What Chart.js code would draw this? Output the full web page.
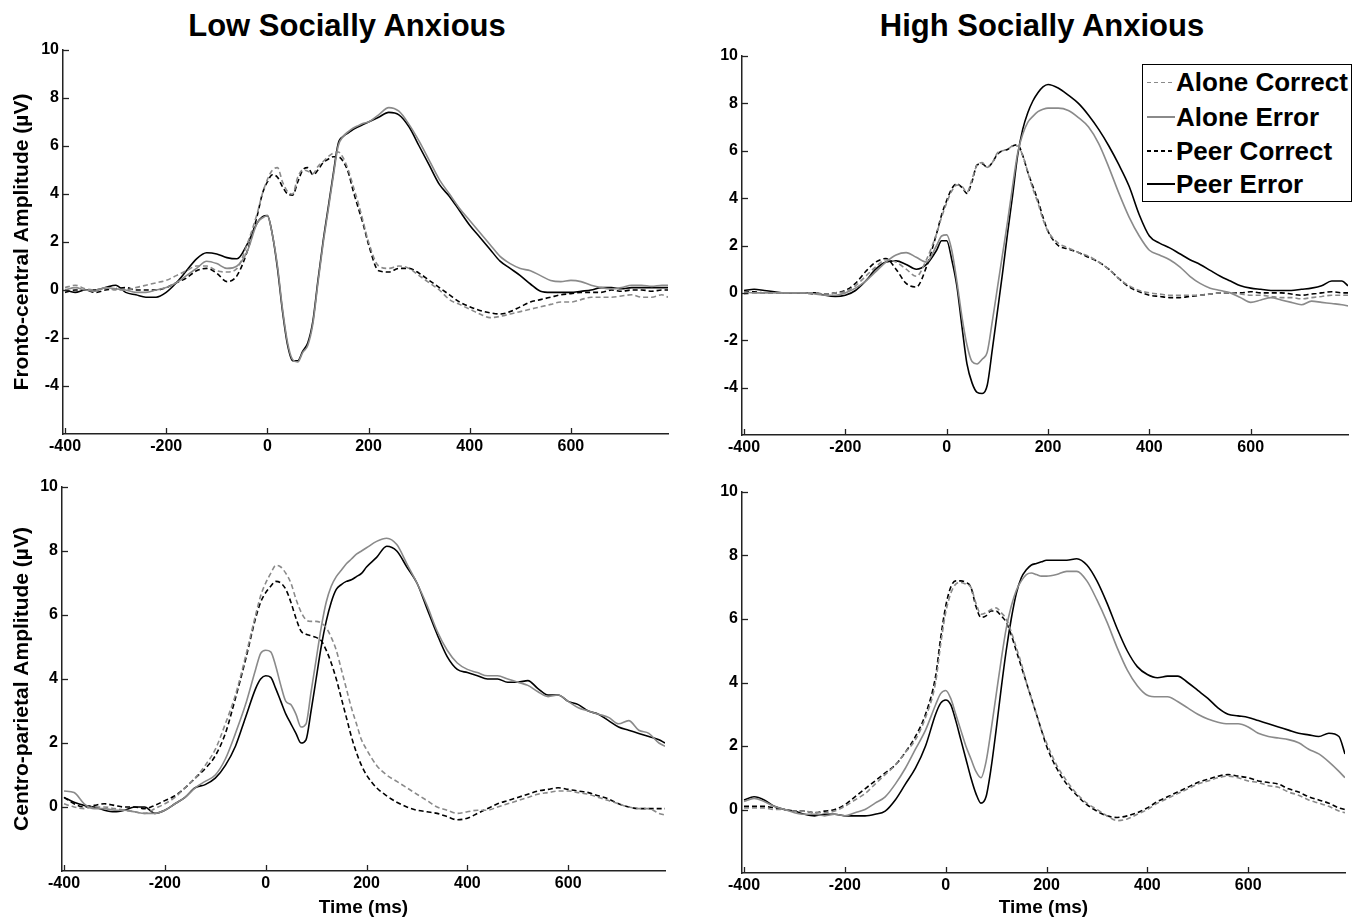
<!DOCTYPE html>
<html><head><meta charset="utf-8">
<script src="https://cdn.jsdelivr.net/npm/chart.js@4.4.0/dist/chart.umd.min.js"></script>
<style>
html,body{margin:0;padding:0;background:#fff;}
body{width:1368px;height:920px;position:relative;overflow:hidden;font-family:"Liberation Sans",Arial,sans-serif;}
.panel{position:absolute;}
.title{position:absolute;font-weight:bold;font-size:31px;color:#000;white-space:nowrap;transform:translate(-50%,-50%);}
.legend{position:absolute;left:1142px;top:64px;width:208px;height:136px;border:1.5px solid #000;background:#fff;z-index:5;}
.row{position:absolute;left:4px;height:34px;display:flex;align-items:center;font-weight:bold;font-size:26px;white-space:nowrap;color:#000;}
.sw{width:28px;height:1.6px;margin-right:1px;}
</style></head>
<body>
<div class="title" style="left:347px;top:26px">Low Socially Anxious</div>
<div class="title" style="left:1042px;top:26px">High Socially Anxious</div>
<div class="panel" style="left:0;top:30px"><canvas id="c1" width="680" height="440"></canvas></div>
<div class="panel" style="left:680px;top:30px"><canvas id="c2" width="688" height="440"></canvas></div>
<div class="panel" style="left:0;top:470px"><canvas id="c3" width="680" height="450"></canvas></div>
<div class="panel" style="left:680px;top:470px"><canvas id="c4" width="688" height="450"></canvas></div>
<div class="legend" id="legend"></div>
<script>
// ---- data (time in ms, amplitude in µV) ----
const time = [-400,-380,-360,-340,-320,-300,-280,-260,-240,-220,-200,-180,-160,-140,-120,-100,-80,-60,-40,-20,
  -10,0,10,20,30,40,50,60,70,80,90,100,110,120,130,140,150,160,170,180,190,200,
  220,240,260,280,300,320,340,360,380,400,420,440,460,480,500,520,540,560,580,600,620,640,660,680,700,720,740,760,780,
  792];

const seriesNames = ['Alone Correct','Alone Error','Peer Correct','Peer Error'];
const panelTitles = ['Low Socially Anxious','High Socially Anxious'];
const xTicks = [-400,-200,0,200,400,600];
const yTicksFC = [-4,-2,0,2,4,6,8,10];
const yTicksCP = [0,2,4,6,8,10];

// Low socially anxious, fronto-central
const lowFC_aloneCorrect = [0.1,0.2,0.05,0,0.1,0,0,0.1,0.2,0.3,0.4,0.6,0.8,1.0,1.0,0.8,0.75,0.9,1.9,3.2,
  4.0,4.6,5.0,5.1,4.5,4.1,4.0,4.7,5.0,4.95,4.85,5.15,5.35,5.55,5.7,5.75,5.5,5.0,4.3,3.6,2.8,2.0,
  1.0,0.9,1.0,0.9,0.6,0.3,0.0,-0.4,-0.6,-0.8,-1.0,-1.15,-1.1,-1.0,-0.9,-0.8,-0.7,-0.6,-0.5,-0.5,-0.4,-0.3,-0.3,-0.3,-0.25,-0.2,-0.3,-0.3,-0.2,
  -0.3];
const lowFC_aloneError = [0,0.1,0,-0.05,0.1,0.05,0,-0.1,-0.1,0,0.1,0.3,0.6,0.9,1.2,1.1,0.9,1.0,1.6,2.8,
  3.0,3.1,2.3,1.0,-0.8,-2.2,-2.9,-3.0,-2.6,-2.3,-1.4,0.3,1.9,3.3,4.7,6.0,6.4,6.6,6.75,6.85,6.95,7.0,
  7.3,7.6,7.45,6.9,6.2,5.4,4.6,4.0,3.4,2.9,2.4,1.9,1.4,1.1,0.9,0.8,0.6,0.4,0.35,0.4,0.35,0.2,0.1,0.05,0.1,0.2,0.2,0.15,0.2,
  0.2];
const lowFC_peerCorrect = [-0.1,0,0,-0.1,0,0.05,0.1,0,0,0,0.1,0.3,0.5,0.8,0.9,0.7,0.35,0.6,1.6,3.1,
  4.0,4.5,4.8,4.7,4.3,4.0,3.95,4.5,5.0,5.1,4.8,5.0,5.3,5.45,5.55,5.55,5.35,4.9,4.1,3.4,2.7,1.9,
  0.8,0.75,0.9,0.9,0.7,0.4,0.1,-0.2,-0.5,-0.7,-0.85,-0.95,-1.0,-0.9,-0.7,-0.5,-0.4,-0.3,-0.2,-0.15,-0.1,-0.1,-0.1,0,-0.05,0,0,-0.05,0,
  0];
const lowFC_peerError = [0,-0.1,0,0,0.1,0.2,-0.1,-0.2,-0.3,-0.3,-0.1,0.3,0.8,1.3,1.55,1.5,1.35,1.3,1.9,2.8,
  3.05,3.1,2.3,0.9,-0.9,-2.3,-2.95,-2.95,-2.55,-2.2,-1.3,0.4,2.0,3.4,4.8,6.1,6.4,6.55,6.7,6.8,6.9,7.0,
  7.2,7.4,7.3,6.8,6.0,5.2,4.4,3.9,3.3,2.7,2.2,1.7,1.2,0.9,0.6,0.25,-0.05,-0.1,-0.1,-0.1,-0.05,0,0.1,0.1,0.05,0.1,0.1,0.1,0.1,
  0.1];

// High socially anxious, fronto-central
const highFC_aloneCorrect = [-0.05,0,0,0,0,0,0,0,-0.05,0,0.05,0.3,0.7,1.1,1.4,1.3,1.0,0.7,1.4,2.5,
  3.2,3.8,4.3,4.55,4.5,4.25,4.8,5.4,5.5,5.3,5.5,5.9,6.0,6.05,6.2,6.2,5.8,5.1,4.4,3.8,3.1,2.6,
  2.1,1.9,1.7,1.55,1.3,1.0,0.6,0.3,0.1,0,-0.05,-0.1,-0.1,-0.1,-0.1,-0.05,0,0,-0.05,-0.1,-0.1,-0.15,-0.2,-0.2,-0.25,-0.2,-0.15,-0.1,-0.1,
  -0.1];
const highFC_aloneError = [0.05,0,0,0,0,0,0,-0.05,-0.1,-0.1,0,0.2,0.5,0.9,1.3,1.6,1.7,1.5,1.3,2.0,
  2.4,2.45,1.8,0.5,-1.0,-2.2,-2.9,-3.0,-2.8,-2.5,-1.2,0.2,1.6,3.0,4.5,5.9,6.7,7.2,7.45,7.65,7.75,7.8,
  7.8,7.7,7.4,7.0,6.3,5.3,4.2,3.2,2.4,1.8,1.6,1.4,1.1,0.7,0.4,0.2,0.1,0,-0.2,-0.4,-0.3,-0.2,-0.3,-0.4,-0.5,-0.35,-0.4,-0.45,-0.5,
  -0.55];
const highFC_peerCorrect = [0.05,0.05,0,0,0,0,0,-0.05,-0.05,0,0.1,0.4,0.9,1.3,1.45,1.0,0.4,0.25,1.1,2.5,
  3.3,3.9,4.4,4.6,4.45,4.2,4.7,5.4,5.45,5.3,5.5,5.85,6.0,6.05,6.2,6.25,5.8,5.1,4.5,3.9,3.2,2.6,
  2.0,1.85,1.7,1.5,1.3,1.0,0.6,0.25,0.05,-0.1,-0.15,-0.2,-0.2,-0.15,-0.1,-0.05,0,0,0,0.05,0,0,0,-0.05,-0.1,-0.05,0,0.05,0,
  0];
const highFC_peerError = [0.1,0.15,0.1,0.05,0,0,0,0,-0.1,-0.15,-0.1,0.1,0.5,1.0,1.3,1.35,1.2,1.0,1.2,1.8,
  2.2,2.2,1.4,0.3,-1.4,-3.0,-3.8,-4.2,-4.25,-3.9,-2.4,-0.8,0.8,2.5,4.1,5.8,6.9,7.6,8.1,8.45,8.7,8.8,
  8.65,8.35,8.0,7.5,6.9,6.2,5.4,4.5,3.3,2.4,2.1,1.9,1.65,1.4,1.2,0.95,0.7,0.5,0.3,0.2,0.15,0.1,0.1,0.1,0.15,0.2,0.3,0.5,0.5,
  0.3];

// Low socially anxious, centro-parietal
const lowCP_aloneCorrect = [0.1,0,-0.05,0,0,-0.05,-0.1,-0.15,-0.2,-0.05,0.1,0.3,0.6,0.9,1.3,1.8,2.6,3.5,4.7,6.0,
  6.6,7.0,7.3,7.55,7.5,7.3,7.0,6.5,6.1,5.85,5.8,5.8,5.75,5.6,5.3,4.9,4.3,3.7,3.1,2.6,2.1,1.8,
  1.3,1.0,0.8,0.6,0.4,0.2,0,-0.1,-0.2,-0.15,-0.1,-0.1,0,0.1,0.2,0.3,0.4,0.45,0.5,0.5,0.45,0.4,0.3,0.2,0.1,0,-0.05,-0.05,-0.2,
  -0.25];
const lowCP_aloneError = [0.5,0.45,0.1,-0.05,-0.05,-0.1,-0.1,-0.15,-0.2,-0.2,-0.1,0.1,0.3,0.6,0.8,1.0,1.5,2.3,3.2,4.3,
  4.8,4.9,4.85,4.4,3.8,3.3,3.2,2.9,2.5,2.6,3.6,4.6,5.6,6.4,6.9,7.2,7.4,7.6,7.75,7.9,8.0,8.1,
  8.3,8.4,8.2,7.6,7.0,6.3,5.5,4.9,4.5,4.3,4.2,4.1,4.1,4.0,3.9,3.8,3.6,3.45,3.5,3.3,3.1,3.0,2.9,2.8,2.6,2.7,2.4,2.3,2.0,
  1.9];
const lowCP_peerCorrect = [0.3,0.1,0,0.05,0.1,0.05,0,0,-0.05,0.05,0.2,0.35,0.6,0.9,1.2,1.6,2.3,3.4,4.6,5.9,
  6.4,6.7,6.9,7.05,7.0,6.8,6.4,5.9,5.5,5.4,5.35,5.3,5.2,4.9,4.5,4.0,3.4,2.8,2.2,1.7,1.3,1.0,
  0.6,0.35,0.15,0,-0.1,-0.15,-0.2,-0.3,-0.4,-0.35,-0.2,-0.05,0.1,0.2,0.3,0.4,0.5,0.55,0.6,0.55,0.5,0.45,0.35,0.25,0.1,0,-0.05,-0.05,-0.05,
  -0.05];
const lowCP_peerError = [0.3,0.15,0.05,0,-0.1,-0.15,-0.1,0,0,-0.2,-0.1,0.1,0.3,0.6,0.7,0.9,1.3,1.9,2.8,3.7,
  4.0,4.1,4.05,3.7,3.3,2.9,2.6,2.3,2.0,2.1,3.0,4.0,5.0,5.8,6.4,6.8,6.95,7.05,7.1,7.2,7.3,7.5,
  7.8,8.15,8.0,7.5,7.0,6.2,5.4,4.7,4.3,4.2,4.1,4.0,4.0,3.9,3.9,3.95,3.7,3.5,3.5,3.3,3.2,3.0,2.9,2.7,2.5,2.4,2.3,2.2,2.1,
  2.0];

// High socially anxious, centro-parietal
const highCP_aloneCorrect = [0.05,0.05,0.05,0,0,-0.05,-0.05,-0.1,-0.1,-0.05,0.1,0.3,0.5,0.8,1.1,1.4,1.8,2.2,2.9,4.0,
  5.2,6.2,6.8,7.1,7.15,7.1,7.0,6.5,6.15,6.2,6.3,6.35,6.2,6.0,5.6,5.1,4.6,4.0,3.5,3.0,2.5,2.1,
  1.4,0.9,0.5,0.2,0,-0.2,-0.35,-0.3,-0.15,0,0.2,0.35,0.5,0.65,0.8,0.9,1.0,1.05,1.0,0.9,0.85,0.75,0.7,0.55,0.45,0.3,0.2,0.1,-0.05,
  -0.1];
const highCP_aloneError = [0.25,0.35,0.25,0.1,0,-0.1,-0.15,-0.15,-0.2,-0.15,-0.2,-0.1,0,0.2,0.4,0.8,1.3,1.9,2.5,3.3,
  3.65,3.75,3.5,3.0,2.5,2.0,1.6,1.2,1.0,1.5,2.5,3.6,4.7,5.7,6.4,6.9,7.2,7.4,7.45,7.4,7.35,7.35,
  7.4,7.5,7.5,7.2,6.6,5.9,5.1,4.4,3.9,3.6,3.55,3.55,3.4,3.2,3.0,2.85,2.75,2.7,2.7,2.6,2.4,2.3,2.25,2.2,2.1,1.9,1.75,1.5,1.2,
  1.0];
const highCP_peerCorrect = [0.1,0.1,0.1,0.05,0,-0.05,-0.05,-0.1,-0.05,0,0.15,0.4,0.65,0.9,1.15,1.4,1.8,2.3,3.0,4.2,
  5.4,6.4,7.0,7.2,7.2,7.15,7.0,6.4,6.05,6.1,6.25,6.25,6.1,5.9,5.5,5.0,4.5,4.0,3.5,3.0,2.5,2.0,
  1.3,0.8,0.45,0.15,-0.05,-0.2,-0.25,-0.2,-0.1,0.05,0.25,0.4,0.55,0.7,0.85,0.95,1.05,1.1,1.05,1.0,0.9,0.85,0.8,0.65,0.55,0.4,0.3,0.2,0.05,
  0];
const highCP_peerError = [0.3,0.4,0.3,0.1,0,-0.05,-0.15,-0.2,-0.15,-0.15,-0.2,-0.2,-0.2,-0.15,-0.05,0.3,0.8,1.3,2.0,3.0,
  3.35,3.45,3.3,2.8,2.2,1.6,1.0,0.5,0.2,0.4,1.3,2.5,3.8,5.0,6.0,6.8,7.3,7.55,7.7,7.75,7.8,7.85,
  7.85,7.85,7.9,7.7,7.2,6.5,5.7,5.0,4.5,4.25,4.15,4.2,4.2,4.0,3.75,3.5,3.2,3.0,2.95,2.9,2.8,2.7,2.6,2.5,2.4,2.35,2.3,2.4,2.3,
  1.75];

// ---- styling ----
const FONT = '"Liberation Sans", Arial, Helvetica, sans-serif';
const GRAY = '#8a8a8a', BLACK = '#000000', AXIS = '#222222';
const seriesStyles = [
  {color: GRAY,  dash: [5, 3], width: 1.6},
  {color: GRAY,  dash: [],     width: 1.6},
  {color: BLACK, dash: [5, 3], width: 1.6},
  {color: BLACK, dash: [],     width: 1.6}
];

const inwardTicks = {
  id: 'inwardTicks',
  afterDatasetsDraw(chart) {
    const {ctx, chartArea, scales} = chart;
    const x = scales.x, y = scales.y;
    ctx.save();
    ctx.strokeStyle = AXIS; ctx.lineWidth = 1.3;
    x.ticks.forEach(t => {
      const px = Math.round(x.getPixelForValue(t.value)) + 0.5;
      ctx.beginPath(); ctx.moveTo(px, chartArea.bottom); ctx.lineTo(px, chartArea.bottom - 6); ctx.stroke();
    });
    y.ticks.forEach(t => {
      const py = Math.round(y.getPixelForValue(t.value)) + 0.5;
      ctx.beginPath(); ctx.moveTo(chartArea.left, py); ctx.lineTo(chartArea.left + 6, py); ctx.stroke();
    });
    ctx.restore();
  }
};

function makePanel(id, sets, cfg) {
  const datasets = sets.map((vals, i) => ({
    label: seriesNames[i],
    data: time.map((t, k) => ({x: t, y: vals[k]})),
    borderColor: seriesStyles[i].color,
    borderDash: seriesStyles[i].dash,
    borderWidth: seriesStyles[i].width,
    pointRadius: 0, fill: false, cubicInterpolationMode: 'monotone'
  }));
  return new Chart(document.getElementById(id), {
    type: 'line',
    data: {datasets},
    options: {
      responsive: false, animation: false, devicePixelRatio: 1, events: [],
      layout: {padding: {left: 0, right: cfg.pr, top: cfg.pt, bottom: 0}},
      plugins: {legend: {display: false}, tooltip: {enabled: false}},
      scales: {
        x: {
          type: 'linear', min: -404, max: 792,
          afterBuildTicks: s => { s.ticks = xTicks.map(v => ({value: v})); },
          afterFit: s => { s.height = cfg.xh; },
          grid: {display: false, drawTicks: false},
          border: {display: true, color: AXIS, width: 1.5},
          ticks: {color: '#000', font: {family: FONT, size: 16, weight: 'bold'}, padding: 3, maxRotation: 0, autoSkip: false},
          title: {display: !!cfg.xTitle, text: cfg.xTitle || '', color: '#000',
                  font: {family: FONT, size: 19, weight: 'bold'}, padding: {top: 0, bottom: 1}}
        },
        y: {
          type: 'linear', min: cfg.ymin, max: 10,
          afterBuildTicks: s => { s.ticks = cfg.yTicks.map(v => ({value: v})); },
          afterFit: s => { s.width = cfg.yw; },
          grid: {display: false, drawTicks: false},
          border: {display: true, color: AXIS, width: 1.5},
          ticks: {color: '#000', font: {family: FONT, size: 16, weight: 'bold'}, padding: 4, autoSkip: false},
          title: {display: !!cfg.yTitle, text: cfg.yTitle || '', color: '#000',
                  font: {family: FONT, size: 21, weight: 'bold'}, padding: {top: 10, bottom: 0}}
        }
      }
    },
    plugins: [inwardTicks]
  });
}

makePanel('c1', [lowFC_aloneCorrect, lowFC_aloneError, lowFC_peerCorrect, lowFC_peerError],
  {pt: 20, pr: 12, xh: 36, yw: 63, ymin: -6, yTicks: yTicksFC, yTitle: 'Fronto-central Amplitude (\u00b5V)'});
makePanel('c2', [highFC_aloneCorrect, highFC_aloneError, highFC_peerCorrect, highFC_peerError],
  {pt: 26, pr: 20, xh: 35, yw: 62, ymin: -6, yTicks: yTicksFC});
makePanel('c3', [lowCP_aloneCorrect, lowCP_aloneError, lowCP_peerCorrect, lowCP_peerError],
  {pt: 17, pr: 15, xh: 49, yw: 62, ymin: -2, yTicks: yTicksCP, yTitle: 'Centro-parietal Amplitude (\u00b5V)', xTitle: 'Time (ms)'});
makePanel('c4', [highCP_aloneCorrect, highCP_aloneError, highCP_peerCorrect, highCP_peerError],
  {pt: 22, pr: 23, xh: 47, yw: 62, ymin: -2, yTicks: yTicksCP, xTitle: 'Time (ms)'});

// legend (HTML, real text)
const legend = document.getElementById('legend');
const rowTops = [0.5, 35, 69, 102];
seriesNames.forEach((name, i) => {
  const row = document.createElement('div');
  row.className = 'row';
  row.style.top = rowTops[i] + 'px';
  const sw = document.createElement('span');
  sw.className = 'sw';
  const c = seriesStyles[i].color;
  sw.style.background = seriesStyles[i].dash.length
    ? `repeating-linear-gradient(to right, ${c} 0 4px, transparent 4px 7px)` : c;
  const tx = document.createElement('span');
  tx.textContent = name;
  row.appendChild(sw); row.appendChild(tx);
  legend.appendChild(row);
});
</script>
</body></html>
